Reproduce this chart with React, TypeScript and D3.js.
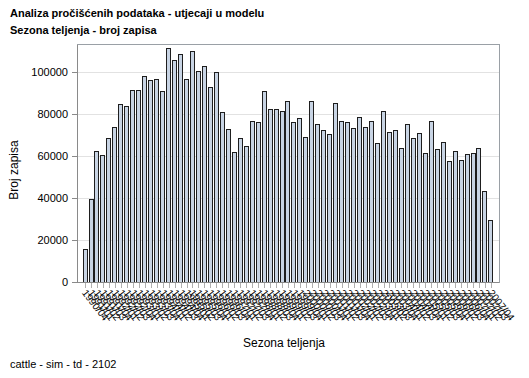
import React from "react";
import * as d3 from "d3";

const titleLines = ["Analiza pročišćenih podataka - utjecaji u modelu", "Sezona teljenja - broj zapisa"];
const xAxisTitle = "Sezona teljenja";
const yAxisTitle = "Broj zapisa";
const footnote = "cattle - sim - td - 2102";

const seasons: string[] = [];
for (let y = 1990; y <= 2007; y++) {
  for (let s = 1; s <= 4; s++) {
    if (y === 1990 && s < 4) continue;
    seasons.push(`${y}/0${s}`);
  }
}

const counts = [
  15600, 39500, 62400, 60500, 68400, 73600, 84600, 83800, 91300, 91300,
  98200, 96200, 96800, 90800, 111300, 105600, 108700, 96500, 109800, 100500,
  102700, 93000, 100100, 80800, 72700, 61700, 68600, 64600, 76800, 76000,
  90800, 82200, 82500, 81600, 86300, 76000, 78200, 68900, 86000, 75400,
  72500, 70600, 85100, 76500, 76000, 73200, 78700, 73700, 76500, 66000,
  81600, 71600, 72500, 63800, 75100, 68400, 71100, 61300, 76800, 63300,
  66700, 57500, 62500, 58100, 61000, 61300, 64000, 43200, 29400,
];

const yTicks = [0, 20000, 40000, 60000, 80000, 100000];

const W = 529;
const H = 378;
const left = 77;
const right = 499;
const top = 44;
const bottom = 282;

export default function App() {
  const x = d3.scaleBand<string>().domain(seasons).range([left, right]).paddingInner(0.16).paddingOuter(0.93);
  const y = d3.scaleLinear().domain([0, 100000]).range([bottom, 72]);
  const font = "'Liberation Sans', Arial, sans-serif";
  return (
    <svg width={W} height={H} style={{ position: "absolute", left: 0, top: 0, background: "#fff" }} fontFamily={font}>
      <rect x={0} y={0} width={W} height={H} fill="#fff" />
      {titleLines.map((t, i) => (
        <text key={i} x={10} y={17 + i * 17} fontSize={11} fontWeight="bold" fill="#000">{t}</text>
      ))}
      {yTicks.filter((t) => t > 0).map((t) => (
        <line key={"g" + t} x1={left} x2={right} y1={Math.round(y(t)) + 0.5} y2={Math.round(y(t)) + 0.5} stroke="#e2e2e2" strokeWidth={1} />
      ))}
      {counts.map((v, i) => {
        const bx = Math.round(x(seasons[i])!);
        const by = Math.round(y(v));
        return (
          <rect key={i} x={bx + 0.5} y={by + 0.5} width={Math.round(x.bandwidth()) - 1} height={bottom - by} fill="#c8d4e4" stroke="#1e1e1e" strokeWidth={1} />
        );
      })}
      <line x1={left + 0.5} x2={left + 0.5} y1={top} y2={bottom + 1} stroke="#8a8a8a" />
      <line x1={left} x2={right} y1={top + 0.5} y2={top + 0.5} stroke="#9aa0a6" />
      <line x1={right + 0.5} x2={right + 0.5} y1={top} y2={bottom + 1} stroke="#9aa0a6" />
      <line x1={left} x2={right} y1={bottom + 0.5} y2={bottom + 0.5} stroke="#8a8a8a" />
      {yTicks.map((t) => (
        <g key={"t" + t}>
          <line x1={72} x2={left} y1={Math.round(y(t)) + 0.5} y2={Math.round(y(t)) + 0.5} stroke="#8a8a8a" />
          <text x={68} y={y(t) + 4} fontSize={11} textAnchor="end" fill="#000">{t}</text>
        </g>
      ))}
      {seasons.map((s) => {
        const cx = Math.round(x(s)! + x.bandwidth() / 2) + 0.5;
        return (
          <g key={"x" + s}>
            <line x1={cx} x2={cx} y1={bottom + 1} y2={bottom + 6} stroke="#b0b0b0" />
            <text transform={`translate(${cx - 4},${bottom + 11}) rotate(52)`} fontSize={10} fill="#000">{s}</text>
          </g>
        );
      })}
      <text transform={`translate(18,170) rotate(-90)`} fontSize={12} textAnchor="middle" fill="#000">{yAxisTitle}</text>
      <text x={284} y={347} fontSize={12} textAnchor="middle" fill="#000">{xAxisTitle}</text>
      <text x={10} y={368} fontSize={11} fill="#000">{footnote}</text>
    </svg>
  );
}
